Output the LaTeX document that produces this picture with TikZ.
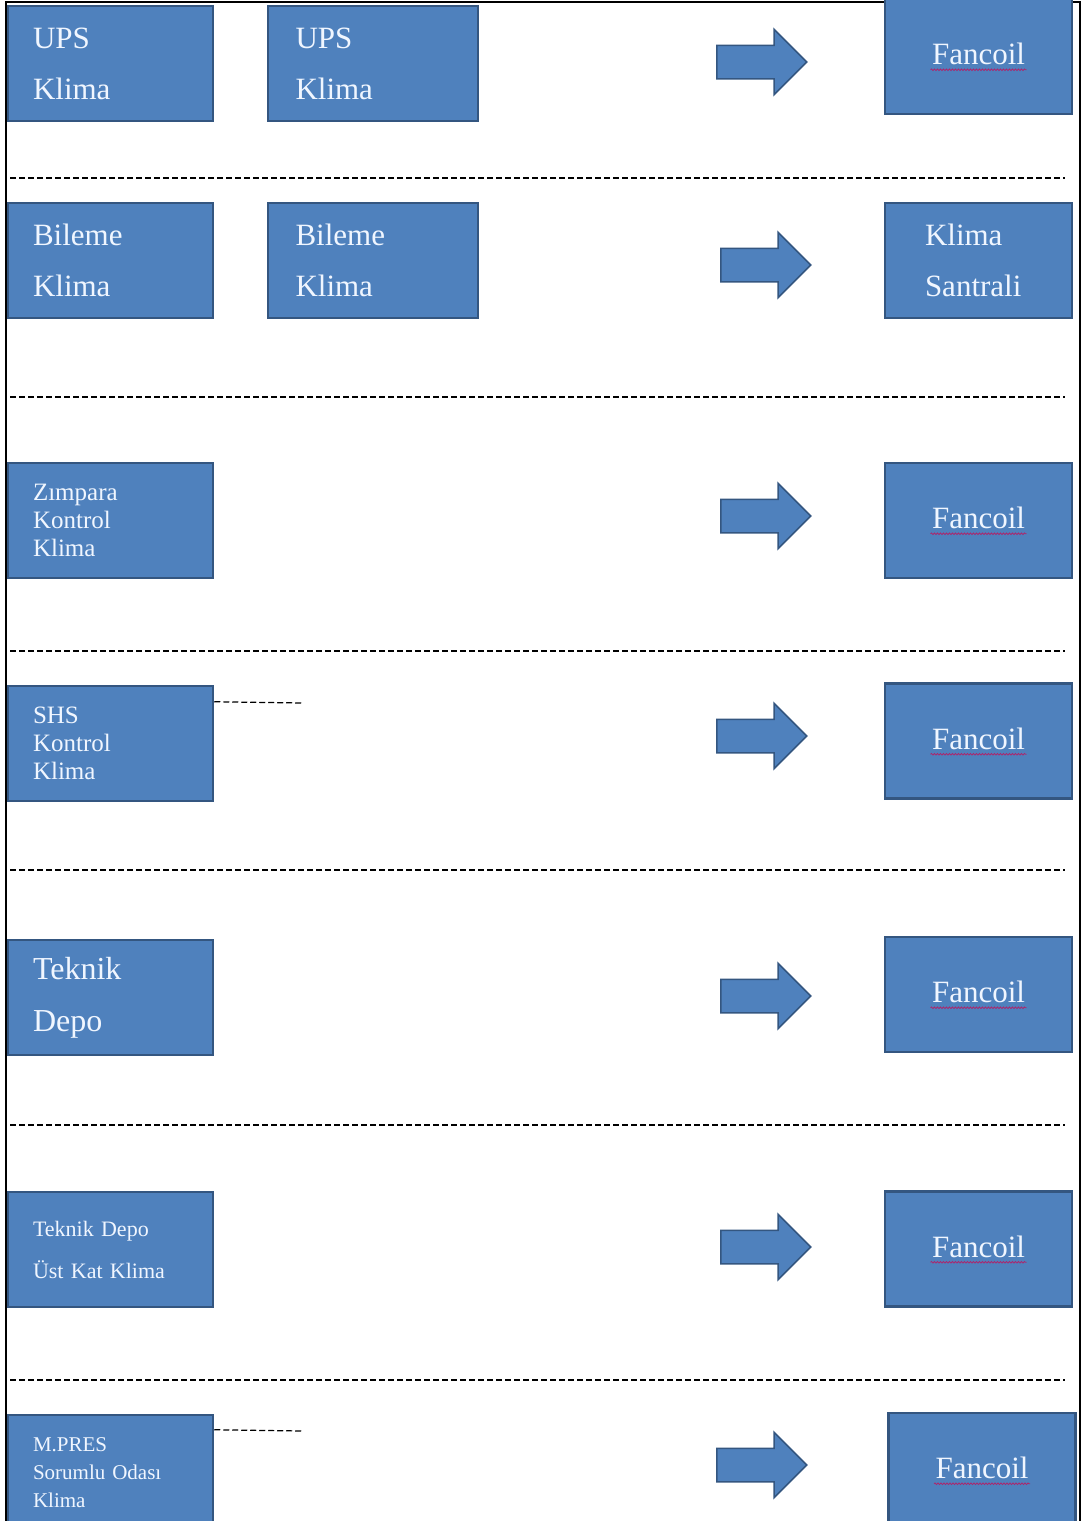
\documentclass[tikz,border=0pt]{standalone}
\usepackage{fontspec}
\setmainfont{Liberation Serif}
\usepackage{tikz}
\usetikzlibrary{shapes.arrows, decorations.pathmorphing}
\definecolor{boxblue}{RGB}{79,129,189}
\definecolor{boxedge}{RGB}{52,86,128}
\definecolor{boxtext}{RGB}{240,246,255}
\definecolor{spellred}{RGB}{170,40,110}

\begin{document}
\begin{tikzpicture}[
		x=1pt, y=-1pt
		,box/.style={rectangle, draw=boxedge, fill=boxblue, line width=2.5pt, text=boxtext, minimum width=205pt, minimum height=115pt, inner sep=0pt}
		,big/.style={box, text width=155pt, align=left, font=\fontsize{31}{51}\selectfont}
		,small/.style={box, text width=155pt, align=left, font=\fontsize{25}{28}\selectfont}
		,tiny/.style={box, text width=155pt, align=left, font=\fontsize{21}{28}\selectfont}
		,fan/.style={box, minimum width=187pt, align=center, font=\fontsize{31}{40}\selectfont}
		,bigarrow/.style={single arrow, anchor=west, draw=boxedge, fill=boxblue, line width=1.5pt, minimum height=90pt, minimum width=64pt, inner sep=16pt, single arrow head extend=16pt}
		,sep/.style={dash pattern=on 6pt off 3pt, line width=1.5pt}
		,wavy/.style={draw=spellred, line width=0.8pt, decorate, decoration={snake, amplitude=0.8pt, segment length=3pt}}
	]
		\clip (0,0) rectangle (1084,1521);
		% frame
		\draw[line width=2pt] (6,1521) -- (6,2) -- (1080,2) -- (1080,1521);

		% UPS
		\node [big] (ups1) at (110.5,63.5) {UPS\\Klima};
		\node [big, minimum width=210pt] (ups2) at (373,63.5) {UPS\\Klima};
		\node [bigarrow] (ar1) at (716,62) {};
		\node [fan] (fan1) at (978.5,56.5) {\raisebox{5pt}{Fancoil}};
		\draw[sep] (10,178) -- (1065,178);

		% Bileme
		\node [big] (bil1) at (110.5,260.5) {Bileme\\Klima};
		\node [big, minimum width=210pt] (bil2) at (373,260.5) {Bileme\\Klima};
		\node [bigarrow] (ar2) at (720,265) {};
		\node [fan, text width=107pt, align=left, font=\fontsize{31}{51}\selectfont] (san) at (978.5,260.5) {Klima\\Santrali};
		\draw[sep] (10,397) -- (1065,397);

		% Zimpara
		\node [small] (zim) at (110.5,520.5) {Zımpara\\Kontrol\\Klima};
		\node [bigarrow] (ar3) at (720,516) {};
		\node [fan] (fan3) at (978.5,520.5) {\raisebox{5pt}{Fancoil}};
		\draw[sep] (10,651) -- (1065,651);

		% SHS
		\node [small] (shs) at (110.5,743.5) {SHS\\Kontrol\\Klima};
		\coordinate (shsend) at (303,703);
		\draw[sep, line width=1.2pt] ([yshift=-17pt]shs.north east) -- (shsend);
		\node [bigarrow] (ar4) at (716,736) {};
		\node [fan] (fan4) at (978.5,741) {\raisebox{5pt}{Fancoil}};
		\draw[sep] (10,870) -- (1065,870);

		% Teknik Depo
		\node [big, font=\fontsize{32}{52}\selectfont] (dep) at (110.5,997.5) {Teknik\\Depo};
		\node [bigarrow] (ar5) at (720,996) {};
		\node [fan] (fan5) at (978.5,994.5) {\raisebox{5pt}{Fancoil}};
		\draw[sep] (10,1125) -- (1065,1125);

		% Ust Kat
		\node [tiny, font=\fontsize{22}{42}\selectfont] (ust) at (110.5,1249.5) {Teknik Depo\\Üst Kat Klima};
		\node [bigarrow] (ar6) at (720,1247) {};
		\node [fan] (fan6) at (978.5,1249) {\raisebox{5pt}{Fancoil}};
		\draw[sep] (10,1380) -- (1065,1380);

		% M.PRES
		\node [tiny] (mpr) at (110.5,1472.5) {M.PRES\\Sorumlu Odası\\Klima};
		\coordinate (mprend) at (303,1431);
		\draw[sep, line width=1.2pt] ([yshift=-16pt]mpr.north east) -- (mprend);
		\node [bigarrow] (ar7) at (716,1465) {};
		\node [fan] (fan7) at (982,1470.5) {\raisebox{5pt}{Fancoil}};

		% spell marks
		\foreach \f in {fan1, fan3, fan4, fan5, fan6, fan7}
			\draw[wavy] ([shift={(-48pt,0pt)}]\f.base) -- ([shift={(48pt,0pt)}]\f.base);
	\end{tikzpicture}
\end{document}
